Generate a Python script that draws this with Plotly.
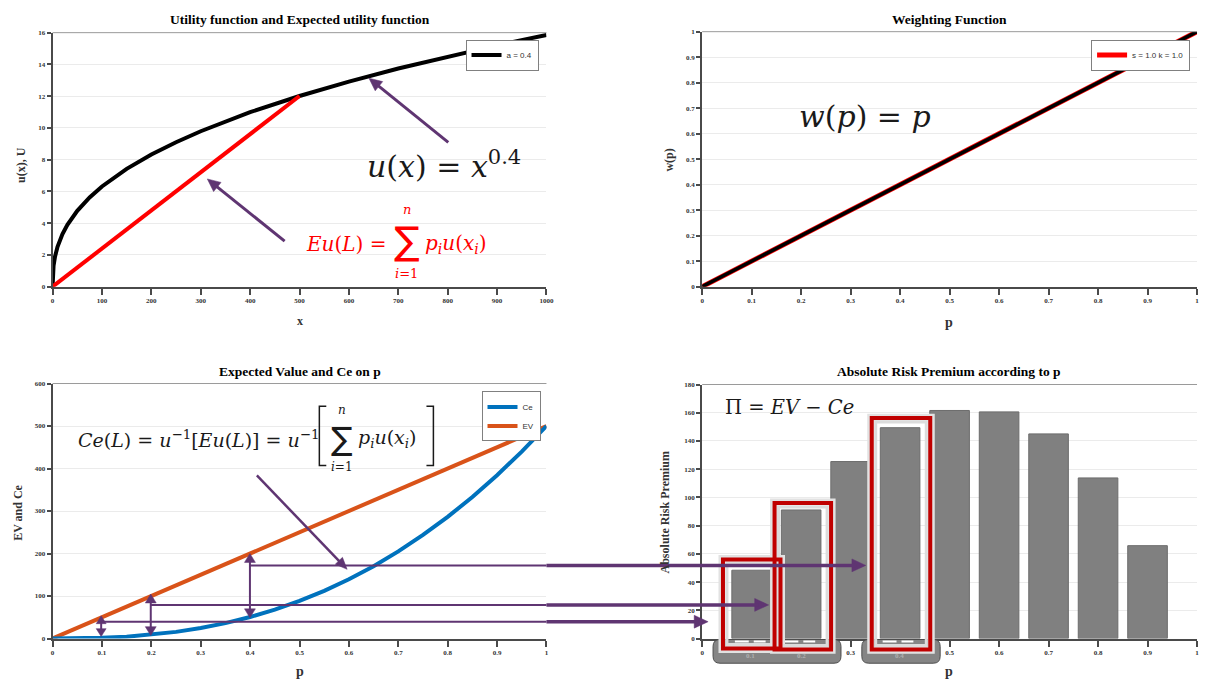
import math
import plotly.graph_objects as go

W, H = 1208, 686

# ---------------- data ----------------
x_values = [0, 1, 2, 5, 10, 20, 30, 50, 75, 100, 150, 200, 250, 300, 400, 500, 600, 700, 800, 900, 1000]
utility = [0, 1.00, 1.32, 1.90, 2.51, 3.31, 3.90, 4.78, 5.62, 6.31, 7.42, 8.33, 9.10, 9.79, 10.99,
           12.01, 12.92, 13.74, 14.50, 15.20, 15.85]
eu_x = [0, 500]
eu_u = [0, 12.01]

w_p = [0, 0.25, 0.5, 0.75, 1.0]
w_vals = [0, 0.25, 0.5, 0.75, 1.0]

p_values = [0, 0.05, 0.1, 0.15, 0.2, 0.25, 0.3, 0.35, 0.4, 0.45, 0.5,
            0.55, 0.6, 0.65, 0.7, 0.75, 0.8, 0.85, 0.9, 0.95, 1.0]
ev_values = [0, 25, 50, 75, 100, 125, 150, 175, 200, 225, 250,
             275, 300, 325, 350, 375, 400, 425, 450, 475, 500]
ce_values = [0, 0.28, 1.58, 4.36, 8.94, 15.6, 24.6, 36.2, 50.6, 67.9, 88.4,
             112.2, 139.4, 170.3, 205.0, 243.6, 286.2, 333.1, 384.2, 439.8, 500]

bar_p = [0.1, 0.2, 0.3, 0.4, 0.5, 0.6, 0.7, 0.8, 0.9]
risk_premium = [48.4, 91.1, 125.4, 149.4, 161.6, 160.6, 145.0, 113.8, 65.8]

x1_ticks = [0, 100, 200, 300, 400, 500, 600, 700, 800, 900, 1000]
y1_ticks = [0, 2, 4, 6, 8, 10, 12, 14, 16]
p_ticks = [0, 0.1, 0.2, 0.3, 0.4, 0.5, 0.6, 0.7, 0.8, 0.9, 1]
p_ticktext = ["0", "0.1", "0.2", "0.3", "0.4", "0.5", "0.6", "0.7", "0.8", "0.9", "1"]
y3_ticks = [0, 100, 200, 300, 400, 500, 600]
y4_ticks = [0, 20, 40, 60, 80, 100, 120, 140, 160, 180]
highlight_p = ["0.1", "0.2", "0.4"]

PURPLE = "#5f3572"
RED = "#ff0000"
BLUE = "#0072BD"
ORANGE = "#D95319"
SERIF = "Liberation Serif"
MATH = "DejaVu Serif"


def PX(x):
    return x / W


def PY(y):
    return 1 - y / H


# ---------------- traces ----------------
fig = go.Figure()
fig.add_trace(go.Scatter(x=x_values, y=utility, mode="lines", name="a = 0.4",
                         line=dict(color="black", width=4), xaxis="x", yaxis="y", legend="legend"))
fig.add_trace(go.Scatter(x=eu_x, y=eu_u, mode="lines", showlegend=False,
                         line=dict(color=RED, width=4), xaxis="x", yaxis="y"))
fig.add_trace(go.Scatter(x=w_p, y=w_vals, mode="lines", name="s = 1.0 k = 1.0",
                         line=dict(color=RED, width=5), xaxis="x2", yaxis="y2", legend="legend2"))
fig.add_trace(go.Scatter(x=w_p, y=w_vals, mode="lines", showlegend=False,
                         line=dict(color="black", width=3.5), xaxis="x2", yaxis="y2"))
fig.add_trace(go.Scatter(x=p_values, y=ev_values, mode="lines", name="EV",
                         line=dict(color=ORANGE, width=4), xaxis="x3", yaxis="y3", legend="legend3"))
fig.add_trace(go.Scatter(x=p_values, y=ce_values, mode="lines", name="Ce",
                         line=dict(color=BLUE, width=4), xaxis="x3", yaxis="y3", legend="legend3"))
fig.add_trace(go.Bar(x=bar_p, y=risk_premium, width=0.08, showlegend=False,
                     marker=dict(color="#808080", line=dict(color="#6c6c6c", width=1)),
                     xaxis="x4", yaxis="y4"))

# ---------------- axes ----------------
tickfont = dict(family=SERIF, size=7, color="#333333", weight="bold")


def xaxis(dom, rng, vals, text, anchor):
    return dict(domain=[PX(dom[0]), PX(dom[1])], range=rng, tickvals=vals, ticktext=text,
                anchor=anchor, showline=True, linecolor="#4a4a4a", linewidth=2,
                ticks="outside", ticklen=6, tickwidth=2, tickcolor="#4a4a4a",
                tickfont=tickfont, showgrid=False, zeroline=False, fixedrange=True)


def yaxis(dom, rng, vals, anchor):
    return dict(domain=[PY(dom[1]), PY(dom[0])], range=rng, tickvals=vals,
                anchor=anchor, showline=True, linecolor="#4a4a4a", linewidth=2,
                ticks="outside", ticklen=4, tickwidth=1.5, tickcolor="#4a4a4a",
                tickfont=tickfont, showgrid=True, gridcolor="#ebebeb", gridwidth=1,
                zeroline=False, fixedrange=True)


# the highlighted tick labels are written separately on the grey label blobs
p4_text = ["" if t in highlight_p else t for t in p_ticktext]

layout = dict(
    width=W, height=H, autosize=False,
    margin=dict(l=0, r=0, t=0, b=0),
    paper_bgcolor="white", plot_bgcolor="white",
    showlegend=True,
    xaxis=xaxis((51, 549), [0, 1000], x1_ticks, [str(v) for v in x1_ticks], "y"),
    yaxis=yaxis((29, 286), [0, 16], y1_ticks, "x"),
    xaxis2=xaxis((706, 1205), [0, 1], p_ticks, p_ticktext, "y2"),
    yaxis2=yaxis((28, 286), [0, 1], p_ticks, "x2"),
    xaxis3=xaxis((51, 549), [0, 1], p_ticks, p_ticktext, "y3"),
    yaxis3=yaxis((384, 642), [0, 600], y3_ticks, "x3"),
    xaxis4=xaxis((706, 1205), [0, 1], p_ticks, p4_text, "y4"),
    yaxis4=yaxis((385, 642), [0, 180], y4_ticks, "x4"),
)
layout["yaxis2"]["ticktext"] = p_ticktext

legend_style = dict(xref="paper", yref="paper", xanchor="right", yanchor="top",
                    bgcolor="white", bordercolor="#808080", borderwidth=1,
                    font=dict(family="Liberation Sans", size=8, color="#333333"),
                    tracegroupgap=0, itemwidth=30)
layout["legend"] = dict(x=PX(541), y=PY(36), **legend_style)
layout["legend2"] = dict(x=PX(1198), y=PY(36), **legend_style)
layout["legend3"] = dict(x=PX(543), y=PY(392), traceorder="reversed", **legend_style)

# ---------------- annotations ----------------
ann = []


def text(x, y, s, size, color="#111111", family=MATH, xanchor="center", yanchor="middle", angle=0):
    ann.append(dict(x=PX(x), y=PY(y), xref="paper", yref="paper", text=s, showarrow=False,
                    font=dict(family=family, size=size, color=color),
                    xanchor=xanchor, yanchor=yanchor, textangle=angle))


# titles
text(300, 16, "<b>Utility function and Expected utility function</b>", 13.5, "#000", SERIF)
text(955, 16, "<b>Weighting Function</b>", 13.5, "#000", SERIF)
text(300, 372, "<b>Expected Value and Ce on p</b>", 13.5, "#000", SERIF)
text(955, 372, "<b>Absolute Risk Premium according to p</b>", 13.5, "#000", SERIF)

# axis titles
text(300, 321, "<b>x</b>", 12, "#333", SERIF)
text(19, 163, "<b>u(x), U</b>", 12, "#333", SERIF, angle=-90)
text(955, 322, "<b>p</b>", 14, "#333", SERIF)
text(673, 158, "<b>w(p)</b>", 12, "#333", SERIF, angle=-90)
text(300, 675, "<b>p</b>", 14, "#333", SERIF)
text(16, 515, "<b>EV and Ce</b>", 12, "#333", SERIF, angle=-90)
text(955, 675, "<b>p</b>", 14, "#333", SERIF)
text(669, 514, "<b>Absolute Risk Premium</b>", 12, "#333", SERIF, angle=-90)

# formulas
text(366, 162, "<i>u</i>(<i>x</i>) = <i>x</i><sup>0.4</sup>", 30, "#1a1a1a", xanchor="left")
text(802, 114, "<i>w</i>(<i>p</i>) = <i>p</i>", 30, "#1a1a1a", xanchor="left")

text(305, 243, "<i>Eu</i>(<i>L</i>) =", 20, RED, xanchor="left")
text(408, 240, "∑", 38, RED, "DejaVu Sans")
text(408, 208, "<i>n</i>", 13, RED)
text(408, 273, "<i>i</i>=1", 13, RED)
text(425, 243, "<i>p<sub>i</sub>u</i>(<i>x<sub>i</sub></i>)", 20, RED, xanchor="left")

text(75, 440, "<i>Ce</i>(<i>L</i>) = <i>u</i><sup>−1</sup>[<i>Eu</i>(<i>L</i>)] = <i>u</i><sup>−1</sup>",
     19, "#1a1a1a", xanchor="left")
text(343, 440, "∑", 32, "#1a1a1a", "DejaVu Sans")
text(343, 411, "<i>n</i>", 12, "#1a1a1a")
text(343, 468, "<i>i</i>=1", 12, "#1a1a1a")
text(357, 440, "<i>p<sub>i</sub>u</i>(<i>x<sub>i</sub></i>)", 19, "#1a1a1a", xanchor="left")

text(727, 408, "Π = <i>EV</i> − <i>Ce</i>", 19.5, "#1a1a1a", xanchor="left")

# ---------------- shapes ----------------
shapes = []


def seg(x0, y0, x1, y1, color, width):
    shapes.append(dict(type="line", xref="paper", yref="paper", x0=PX(x0), y0=PY(y0),
                       x1=PX(x1), y1=PY(y1), line=dict(color=color, width=width), layer="above"))


def head(xt, yt, xh, yh, hl, hw):
    d = math.hypot(xh - xt, yh - yt)
    ux, uy = (xh - xt) / d, (yh - yt) / d
    nx, ny = -uy, ux
    bx, by = xh - hl * ux, yh - hl * uy
    pts = [(xh, yh), (bx + hw * nx, by + hw * ny), (bx - hw * nx, by - hw * ny)]
    path = "M " + " L ".join(f"{PX(a):.5f},{PY(b):.5f}" for a, b in pts) + " Z"
    shapes.append(dict(type="path", xref="paper", yref="paper", path=path,
                       fillcolor=PURPLE, line=dict(color=PURPLE, width=0.5), layer="above"))
    return bx, by


def arrow(xt, yt, xh, yh, width, hl, hw, both=False):
    bx, by = head(xt, yt, xh, yh, hl, hw)
    sx, sy = xt, yt
    if both:
        sx, sy = head(xh, yh, xt, yt, hl, hw)
    ex = bx + (xh - bx) * 0.3
    ey = by + (yh - by) * 0.3
    if both:
        sx = sx + (xt - sx) * 0.3
        sy = sy + (yt - sy) * 0.3
    seg(sx, sy, ex, ey, PURPLE, width)


def rrect_path(x0, y0, x1, y1, r):
    pts = [("M", x0 + r, y0), ("L", x1 - r, y0), ("Q", x1, y0, x1, y0 + r), ("L", x1, y1 - r),
           ("Q", x1, y1, x1 - r, y1), ("L", x0 + r, y1), ("Q", x0, y1, x0, y1 - r),
           ("L", x0, y0 + r), ("Q", x0, y0, x0 + r, y0)]
    out = []
    for p in pts:
        cmd = p[0]
        coords = p[1:]
        cs = []
        for i in range(0, len(coords), 2):
            cs.append(f"{PX(coords[i]):.5f},{PY(coords[i + 1]):.5f}")
        out.append(cmd + " " + " ".join(cs))
    return " ".join(out) + " Z"


# thin top borders of the plot areas
seg(51, 29, 549, 29, "#9a9a9a", 1)
seg(706, 28, 1205, 28, "#9a9a9a", 1)
seg(51, 384, 549, 384, "#9a9a9a", 1)
seg(706, 385, 1205, 385, "#9a9a9a", 1)

# grey label blobs under highlighted bars
for bx0, bx1 in [(717, 846), (867, 946)]:
    shapes.append(dict(type="path", xref="paper", yref="paper", path=rrect_path(bx0, 643, bx1, 667, 7),
                       fillcolor="#858585", line=dict(color="#4d4d4d", width=1), layer="above"))
# small white dashes at bar bottoms
for c in [756, 806, 905]:
    seg(c - 17, 645, c - 3, 645, "white", 2)
    seg(c + 2, 645, c + 14, 645, "white", 2)

rects = [(727, 562, 785, 652), (779, 505, 836, 653), (877, 419, 936, 653)]
for rx0, ry0, rx1, ry1 in rects:
    shapes.append(dict(type="rect", xref="paper", yref="paper", x0=PX(rx0 - 1), x1=PX(rx1 + 1),
                       y0=PY(ry1 + 1), y1=PY(ry0 - 1), line=dict(color="#e2e2e2", width=7),
                       fillcolor="rgba(0,0,0,0)", layer="above"))
    shapes.append(dict(type="rect", xref="paper", yref="paper", x0=PX(rx0 + 4), x1=PX(rx1 - 4),
                       y0=PY(ry1 - 4), y1=PY(ry0 + 4), line=dict(color="#dcdcdc", width=3),
                       fillcolor="rgba(0,0,0,0)", layer="above"))
for rx0, ry0, rx1, ry1 in rects:
    shapes.append(dict(type="rect", xref="paper", yref="paper", x0=PX(rx0), x1=PX(rx1),
                       y0=PY(ry1), y1=PY(ry0), line=dict(color="#c00000", width=4),
                       fillcolor="rgba(0,0,0,0)", layer="above"))

# arrows of panel 1
arrow(450, 140, 370, 75, 3, 13, 6)
arrow(285, 240, 207, 177, 3, 13, 6)
# diagonal arrow of panel 3
arrow(257, 477, 348, 572, 2.5, 12, 5)
# vertical double arrows between Ce and EV
arrow(100, 640, 100, 619, 2, 8, 5, both=True)
arrow(150, 639, 150, 597, 2, 9, 5.5, both=True)
arrow(250, 621, 250, 556, 2, 9, 5.5, both=True)
# thin connector lines inside the EV/Ce panel
seg(250, 568, 549, 568, PURPLE, 2)
seg(150, 608, 549, 608, PURPLE, 2)
seg(100, 625, 549, 625, PURPLE, 2)
# long thick arrows into the bar chart
arrow(549, 568, 871, 568, 3.5, 14, 6.5)
arrow(549, 608, 773, 608, 3.5, 14, 6.5)
arrow(549, 625, 712, 625, 3.5, 14, 6.5)

# big brackets of the Ce formula
shapes.append(dict(type="path", xref="paper", yref="paper",
                   path=f"M {PX(327)},{PY(407)} L {PX(320)},{PY(407)} L {PX(320)},{PY(467)} L {PX(327)},{PY(467)}",
                   line=dict(color="#1a1a1a", width=1.5), layer="above"))
shapes.append(dict(type="path", xref="paper", yref="paper",
                   path=f"M {PX(428)},{PY(407)} L {PX(435)},{PY(407)} L {PX(435)},{PY(467)} L {PX(428)},{PY(467)}",
                   line=dict(color="#1a1a1a", width=1.5), layer="above"))

# light labels on the grey blobs
for lab, xp in zip(highlight_p, [755, 806, 905]):
    text(xp, 660, "<b>" + lab + "</b>", 7, "#b0b0b0", SERIF)

layout["annotations"] = ann
layout["shapes"] = shapes
fig.update_layout(**layout)

fig.write_html("out.html", config={"displayModeBar": False},
               post_script="document.body.style.margin='0';document.body.style.overflow='hidden';")
